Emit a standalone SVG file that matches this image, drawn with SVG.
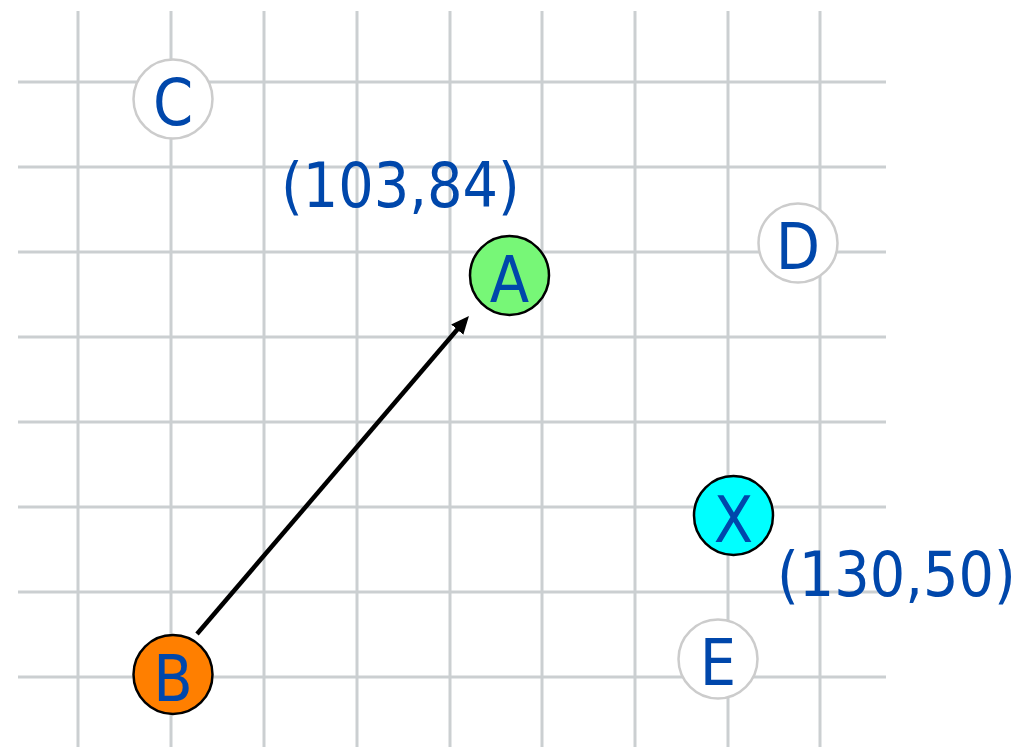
<svg xmlns="http://www.w3.org/2000/svg" width="1032" height="747" viewBox="0 0 1032 747">
<defs>
<style>
.grid line{stroke:#cbcfd1;stroke-width:3}
.node circle{stroke-width:2.5}
.ghost circle{fill:#ffffff;stroke:#cccccc}
.solid circle{stroke:#000000}
text{font-family:"DejaVu Sans Condensed","DejaVu Sans","Liberation Sans",sans-serif;font-stretch:condensed;fill:#0047ab}
.nl{font-size:64px;text-anchor:middle}
.lbl{font-size:62px}
</style>
<marker id="ah" viewBox="0 0 18 16" refX="7" refY="8" markerWidth="18" markerHeight="16" orient="auto" markerUnits="userSpaceOnUse">
<path d="M0,0 L18,8 L0,16 z" fill="#000000"/>
</marker>
</defs>
<rect width="1032" height="747" fill="#ffffff"/>
<g class="grid">
<line x1="78" y1="11" x2="78" y2="747"/>
<line x1="171" y1="11" x2="171" y2="747"/>
<line x1="264" y1="11" x2="264" y2="747"/>
<line x1="357" y1="11" x2="357" y2="747"/>
<line x1="450" y1="11" x2="450" y2="747"/>
<line x1="542" y1="11" x2="542" y2="747"/>
<line x1="635" y1="11" x2="635" y2="747"/>
<line x1="728" y1="11" x2="728" y2="747"/>
<line x1="820" y1="11" x2="820" y2="747"/>
<line x1="18" y1="82" x2="886" y2="82"/>
<line x1="18" y1="167" x2="886" y2="167"/>
<line x1="18" y1="252" x2="886" y2="252"/>
<line x1="18" y1="337" x2="886" y2="337"/>
<line x1="18" y1="422" x2="886" y2="422"/>
<line x1="18" y1="507" x2="886" y2="507"/>
<line x1="18" y1="592" x2="886" y2="592"/>
<line x1="18" y1="677" x2="886" y2="677"/>
</g>
<g id="connectors">
<line x1="197" y1="634" x2="461.8" y2="324.3" stroke="#000000" stroke-width="4.5" marker-end="url(#ah)"/>
</g>
<g id="node-C" class="node ghost"><circle cx="173" cy="99" r="39.5"/><text class="nl" x="173" y="125">C</text></g>
<g id="node-D" class="node ghost"><circle cx="798" cy="243" r="39.5"/><text class="nl" x="798" y="269">D</text></g>
<g id="node-E" class="node ghost"><circle cx="718" cy="659" r="39.5"/><text class="nl" x="718" y="685">E</text></g>
<g id="node-A" class="node solid"><circle cx="509.5" cy="275.5" r="39.5" fill="#77f777"/><text class="nl" x="509.5" y="302">A</text></g>
<g id="node-X" class="node solid"><circle cx="733.5" cy="515.5" r="39.5" fill="#00ffff"/><text class="nl" x="733.5" y="542">X</text></g>
<g id="node-B" class="node solid"><circle cx="173" cy="674.5" r="39.5" fill="#ff7f00"/><text class="nl" x="173" y="701">B</text></g>
<g id="labels">
<text class="lbl" x="281" y="207">(103,84)</text>
<text class="lbl" x="777" y="596">(130,50)</text>
</g>
</svg>
